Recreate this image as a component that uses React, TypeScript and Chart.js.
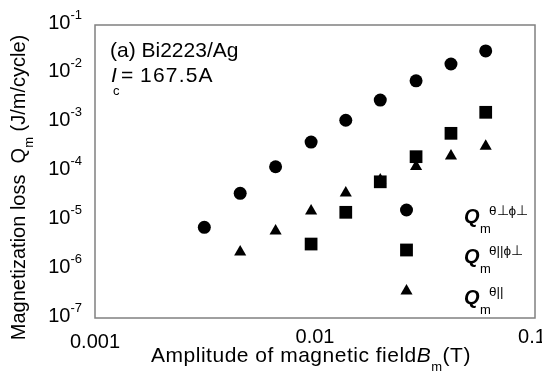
import React, { useEffect, useRef } from "react";
import { Chart, registerables } from "chart.js";

Chart.register(...registerables);

// Amplitude of magnetic field B_m (T)
const Bm = [0.00314, 0.00457, 0.00662, 0.0096, 0.0138, 0.0198, 0.0288, 0.0415, 0.0597];
// Magnetization loss Q_m (J/m/cycle)
const qPerpPerp: (number | null)[] = [7.2e-6, 3.57e-5, 1.25e-4, 4.0e-4, 1.12e-3, 2.9e-3, 7.2e-3, 1.59e-2, 2.94e-2];
const qParPerp: (number | null)[] = [null, null, null, 3.27e-6, 1.46e-5, 6.15e-5, 2.01e-4, 6.05e-4, 1.63e-3];
const qPar: (number | null)[] = [null, 2.24e-6, 6.04e-6, 1.55e-5, 3.63e-5, 6.7e-5, 1.26e-4, 2.07e-4, 3.28e-4];

const seriesNames = ["Qm θ⊥ϕ⊥", "Qm θ||ϕ⊥", "Qm θ||"];
const legendSup = ["θ⊥ϕ⊥", "θ||ϕ⊥", "θ||"];
const pointStyles = ["circle", "rect", "triangle"];

const xTickValues = [0.001, 0.01, 0.1];
const xTickLabels = ["0.001", "0.01", "0.1"];
const yTickValues = [1e-7, 1e-6, 1e-5, 1e-4, 1e-3, 1e-2, 1e-1];
const yTickExponents = ["-7", "-6", "-5", "-4", "-3", "-2", "-1"];

const FONT = "Arial, 'Liberation Sans', Helvetica, sans-serif";

function toPoints(ys: (number | null)[]) {
  const out: { x: number; y: number }[] = [];
  ys.forEach((y, i) => {
    if (y !== null) out.push({ x: Bm[i], y });
  });
  return out;
}

function drawMarker(ctx: CanvasRenderingContext2D, style: string, x: number, y: number) {
  ctx.save();
  ctx.fillStyle = "#000";
  ctx.beginPath();
  if (style === "circle") {
    ctx.arc(x, y, 6.5, 0, Math.PI * 2);
  } else if (style === "rect") {
    const s = 6.4;
    ctx.rect(x - s, y - s, 2 * s, 2 * s);
  } else {
    const r = 7;
    let a = 0;
    ctx.moveTo(x + Math.sin(a) * r, y - Math.cos(a) * r);
    a += (2 * Math.PI) / 3;
    ctx.lineTo(x + Math.sin(a) * r, y - Math.cos(a) * r);
    a += (2 * Math.PI) / 3;
    ctx.lineTo(x + Math.sin(a) * r, y - Math.cos(a) * r);
    ctx.closePath();
  }
  ctx.fill();
  ctx.restore();
}

function setSpacing(ctx: any, v: string) {
  if ("letterSpacing" in ctx) ctx.letterSpacing = v;
}

const decorPlugin = {
  id: "decor",
  afterDraw(chart: any) {
    const ctx: CanvasRenderingContext2D = chart.ctx;
    const a = chart.chartArea;
    const xs = chart.scales.x;
    const ys = chart.scales.y;
    ctx.save();

    // frame
    ctx.strokeStyle = "#808080";
    ctx.lineWidth = 1.5;
    ctx.strokeRect(a.left, a.top, a.right - a.left, a.bottom - a.top);

    ctx.fillStyle = "#000";

    // y tick labels 10^n
    yTickValues.forEach((v, i) => {
      const py = ys.getPixelForValue(v);
      ctx.font = `13px ${FONT}`;
      const supW = ctx.measureText(yTickExponents[i]).width;
      const right = a.left - 13;
      ctx.textBaseline = "middle";
      ctx.textAlign = "left";
      ctx.fillText(yTickExponents[i], right - supW, py - 10);
      ctx.font = `20px ${FONT}`;
      ctx.textAlign = "right";
      ctx.fillText("10", right - supW, py - 2);
    });

    // x tick labels
    ctx.font = `20px ${FONT}`;
    ctx.textAlign = "center";
    ctx.textBaseline = "middle";
    xTickValues.forEach((v, i) => {
      const px = xs.getPixelForValue(v);
      const dx = i === xTickValues.length - 1 ? -3 : 0;
      ctx.fillText(xTickLabels[i], px + dx, a.bottom + 19 + (i === 0 ? 5 : 0));
    });

    // x axis title
    {
      setSpacing(ctx, "0.5px");
      const parts = [
        { t: "Amplitude of magnetic field", f: `21px ${FONT}`, dy: 0 },
        { t: "B", f: `italic 21px ${FONT}`, dy: 0 },
        { t: "m", f: `13px ${FONT}`, dy: 9 },
        { t: "(T)", f: `21px ${FONT}`, dy: 0 },
      ];
      let total = 0;
      const widths = parts.map((p) => {
        ctx.font = p.f;
        const w = ctx.measureText(p.t).width;
        total += w;
        return w;
      });
      let x = a.left + 216 - total / 2;
      const base = a.bottom + 44;
      ctx.textAlign = "left";
      ctx.textBaseline = "alphabetic";
      parts.forEach((p, i) => {
        ctx.font = p.f;
        ctx.fillText(p.t, x, base + p.dy);
        x += widths[i];
      });
      setSpacing(ctx, "0px");
    }

    // y axis title (rotated)
    {
      const parts = [
        { t: "Magnetization loss  Q", f: `20px ${FONT}`, dy: 0 },
        { t: "m", f: `13px ${FONT}`, dy: 8 },
        { t: " (J/m/cycle)", f: `20px ${FONT}`, dy: 0 },
      ];
      let total = 0;
      const widths = parts.map((p) => {
        ctx.font = p.f;
        const w = ctx.measureText(p.t).width;
        total += w;
        return w;
      });
      ctx.save();
      ctx.translate(17, (a.top + a.bottom) / 2 + 16);
      ctx.rotate(-Math.PI / 2);
      ctx.textAlign = "left";
      ctx.textBaseline = "alphabetic";
      let x = -total / 2;
      parts.forEach((p, i) => {
        ctx.font = p.f;
        ctx.fillText(p.t, x, p.dy);
        x += widths[i];
      });
      ctx.restore();
    }

    // annotation
    ctx.textAlign = "left";
    ctx.textBaseline = "alphabetic";
    ctx.font = `21px ${FONT}`;
    ctx.fillText("(a) Bi2223/Ag", a.left + 15, a.top + 32);
    ctx.font = `italic 21px ${FONT}`;
    ctx.fillText("I", a.left + 16, a.top + 57);
    ctx.font = `13px ${FONT}`;
    ctx.fillText("c", a.left + 18, a.top + 70);
    ctx.font = `21px ${FONT}`;
    ctx.fillText("=", a.left + 26, a.top + 57);
    setSpacing(ctx, "1.2px");
    ctx.fillText("167.5A", a.left + 45, a.top + 57);
    setSpacing(ctx, "0px");

    // legend
    const mx = a.left + 311.5;
    const rows = [a.top + 185, a.top + 225, a.top + 266];
    legendSup.forEach((sup, i) => {
      const y = rows[i];
      drawMarker(ctx, pointStyles[i], mx, y);
      const qx = a.left + 369;
      ctx.font = `italic bold 20px ${FONT}`;
      ctx.textBaseline = "alphabetic";
      ctx.fillText("Q", qx, y + 13);
      ctx.font = `13px ${FONT}`;
      ctx.fillText("m", qx + 16, y + 23);
      ctx.font = `13.5px ${FONT}`;
      ctx.fillText(sup, qx + 25, y + 5);
    });

    ctx.restore();
  },
};

export default function App() {
  const ref = useRef<HTMLCanvasElement | null>(null);
  useEffect(() => {
    if (!ref.current) return;
    const chart = new Chart(ref.current, {
      type: "scatter",
      data: {
        datasets: [
          {
            label: seriesNames[0],
            data: toPoints(qPerpPerp),
            pointStyle: "circle",
            pointRadius: 6.5,
            backgroundColor: "#000",
            borderWidth: 0,
          },
          {
            label: seriesNames[1],
            data: toPoints(qParPerp),
            pointStyle: "rect",
            pointRadius: 9,
            backgroundColor: "#000",
            borderWidth: 0,
          },
          {
            label: seriesNames[2],
            data: toPoints(qPar),
            pointStyle: "triangle",
            pointRadius: 7,
            backgroundColor: "#000",
            borderWidth: 0,
          },
        ],
      },
      options: {
        animation: false,
        responsive: true,
        maintainAspectRatio: false,
        layout: { padding: { left: 87, right: 15, top: 17, bottom: 55 } },
        plugins: { legend: { display: false }, tooltip: { enabled: false } },
        scales: {
          x: { type: "logarithmic", min: 0.001, max: 0.1, display: false },
          y: { type: "logarithmic", min: 1e-7, max: 1e-1, display: false },
        },
      },
      plugins: [decorPlugin],
    });
    return () => chart.destroy();
  }, []);
  return (
    <div style={{ position: "relative", width: "542px", height: "365px" }}>
      <canvas ref={ref} />
    </div>
  );
}
